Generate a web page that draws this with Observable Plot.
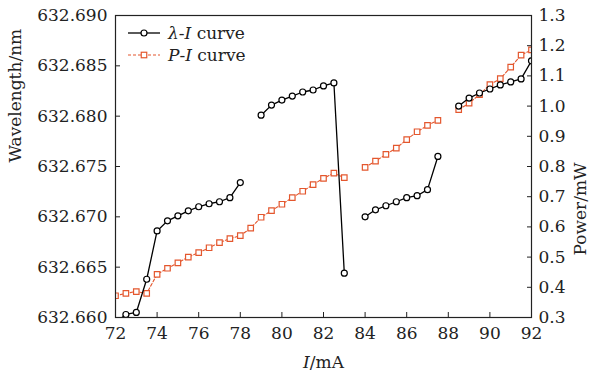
<!DOCTYPE html>
<html><head><meta charset="utf-8">
<script src="https://cdn.jsdelivr.net/npm/d3@7"></script>
<script src="https://cdn.jsdelivr.net/npm/@observablehq/plot@0.6"></script>
<style>
body{margin:0;background:#fff}
svg{font-family:"DejaVu Serif",serif}
</style>
</head><body><div id="chart"></div>
<script>
// λ-I curve segments (current in mA, wavelength in nm)
const lamI1 = [72,72.5,73,73.5,74,74.5,75,75.5,76,76.5,77,77.5,78];
const lamV1 = [632.6595,632.6603,632.6605,632.6638,632.6686,632.6696,632.6701,632.6706,632.6710,632.6713,632.6715,632.6719,632.6734];
const lamI2 = [79,79.5,80,80.5,81,81.5,82,82.5,83];
const lamV2 = [632.6801,632.6811,632.6816,632.6820,632.6824,632.6826,632.6830,632.6833,632.6644];
const lamI3 = [84,84.5,85,85.5,86,86.5,87,87.5];
const lamV3 = [632.6700,632.6707,632.6711,632.6715,632.6719,632.6721,632.6727,632.6760];
const lamI4 = [88.5,89,89.5,90,90.5,91,91.5,92];
const lamV4 = [632.6810,632.6818,632.6823,632.6827,632.6831,632.6834,632.6837,632.6855];

// P-I curve segments (current in mA, power in mW)
const powI1 = [72,72.5,73,73.5,74,74.5,75,75.5,76,76.5,77,77.5,78,78.5,79,79.5,80,80.5,81,81.5,82,82.5,83];
const powV1 = [0.372,0.380,0.386,0.380,0.443,0.463,0.481,0.500,0.515,0.531,0.548,0.561,0.571,0.596,0.632,0.654,0.675,0.697,0.718,0.740,0.761,0.778,0.763];
const powI2 = [84,84.5,85,85.5,86,86.5,87,87.5];
const powV2 = [0.797,0.818,0.840,0.861,0.889,0.915,0.936,0.953];
const powI3 = [88.5,89,89.5,90,90.5,91,91.5,92];
const powV3 = [0.988,1.010,1.038,1.071,1.091,1.129,1.169,1.186];

// axes
const xTicks = [72,74,76,78,80,82,84,86,88,90,92];
const yTicksLeft = [632.660,632.665,632.670,632.675,632.680,632.685,632.690];
const yTicksRight = [0.3,0.4,0.5,0.6,0.7,0.8,0.9,1.0,1.1,1.2,1.3];
const xDomain = [72,92];
const yLeftDomain = [632.660,632.690];
const yRightDomain = [0.3,1.3];

const ORANGE = "#e4572e";
const k = (yLeftDomain[1]-yLeftDomain[0])/(yRightDomain[1]-yRightDomain[0]);
const toL = p => yLeftDomain[0] + (p - yRightDomain[0]) * k;
const toR = v => (v - yLeftDomain[0]) / k + yRightDomain[0];

const lamRows = [[lamI1,lamV1],[lamI2,lamV2],[lamI3,lamV3],[lamI4,lamV4]]
  .flatMap(([I,V],s) => I.map((x,j) => ({I:x, v:V[j], seg:s})));
const powRows = [[powI1,powV1],[powI2,powV2],[powI3,powV3]]
  .flatMap(([I,V],s) => I.map((x,j) => ({I:x, v:toL(V[j]), seg:s})));

const chart = Plot.plot({
  width: 594, height: 376,
  marginLeft: 115, marginRight: 63, marginTop: 15, marginBottom: 59,
  style: {fontSize: "17px", fontFamily: "'DejaVu Serif', serif", color: "#222", background: "#fff"},
  x: {domain: xDomain, label: null},
  y: {domain: yLeftDomain, label: null},
  marks: [
    Plot.line(powRows, {x:"I", y:"v", z:"seg", stroke: ORANGE, strokeWidth: 1.1, strokeDasharray: "3,2", clip: true}),
    Plot.dot(powRows, {x:"I", y:"v", symbol:"square", r: 3.1, stroke: ORANGE, fill: "white", strokeWidth: 1.2, clip: true}),
    Plot.line(lamRows, {x:"I", y:"v", z:"seg", stroke: "black", strokeWidth: 1.3, clip: true}),
    Plot.dot(lamRows, {x:"I", y:"v", symbol:"circle", r: 3, stroke: "black", fill: "white", strokeWidth: 1.2, clip: true}),
    Plot.axisX(xTicks, {tickSize: -5, tickPadding: 14, tickFormat: d => String(d), label: null}),
    Plot.axisY(yTicksLeft, {anchor: "left", tickSize: -5, tickPadding: 13, tickFormat: d3.format(".3f"), label: null}),
    Plot.axisY(yTicksRight.map(toL), {anchor: "right", tickSize: -5, tickPadding: 12, tickFormat: d => toR(d).toFixed(1), label: null}),
    Plot.frame({stroke: "#222", strokeWidth: 1.2}),
    Plot.text(["Wavelength/nm"], {frameAnchor: "left", dx: -100, dy: -4, rotate: -90, text: d => d, fill: "#222"}),
    Plot.text(["Power/mW"], {frameAnchor: "right", dx: 49, dy: -4, rotate: -90, text: d => d, fill: "#222"}),
    Plot.text(["I/mA"], {frameAnchor: "bottom", dy: 50, text: d => d, fill: "#222"})
  ]
});

document.getElementById("chart").appendChild(chart);
const svg = d3.select(chart);

// italic I in x label
svg.selectAll("text").filter(function(){ return this.textContent === "I/mA"; })
  .each(function(){
    const t = d3.select(this).select("tspan").empty() ? d3.select(this) : d3.select(this).select("tspan");
    t.text(null);
    t.append("tspan").attr("font-style","italic").text("I");
    t.append("tspan").text("/mA");
  });

// legend
const lg = svg.append("g").attr("font-size", 17).attr("fill", "#222").attr("text-anchor", "start");
const rows = [
  {y: 33, a: "λ", b: "I", stroke: "black", dash: null, sym: "circle"},
  {y: 55, a: "P", b: "I", stroke: ORANGE, dash: "3,2", sym: "square"}
];
rows.forEach(r => {
  lg.append("line").attr("x1",128).attr("x2",160).attr("y1",r.y).attr("y2",r.y)
    .attr("stroke",r.stroke).attr("stroke-width",r.sym==="circle"?1.3:1.1).attr("stroke-dasharray",r.dash);
  if (r.sym === "circle") {
    lg.append("circle").attr("cx",144).attr("cy",r.y).attr("r",3).attr("fill","white").attr("stroke","black").attr("stroke-width",1.2);
  } else {
    lg.append("rect").attr("x",141.25).attr("y",r.y-2.75).attr("width",5.5).attr("height",5.5).attr("fill","white").attr("stroke",ORANGE).attr("stroke-width",1.2);
  }
  const t = lg.append("text").attr("x",168).attr("y",r.y).attr("dy","0.35em").attr("text-anchor","start");
  t.append("tspan").attr("font-style","italic").text(r.a);
  t.append("tspan").text("-");
  t.append("tspan").attr("font-style","italic").text(r.b);
  t.append("tspan").text(" curve");
});
</script>
</body></html>
